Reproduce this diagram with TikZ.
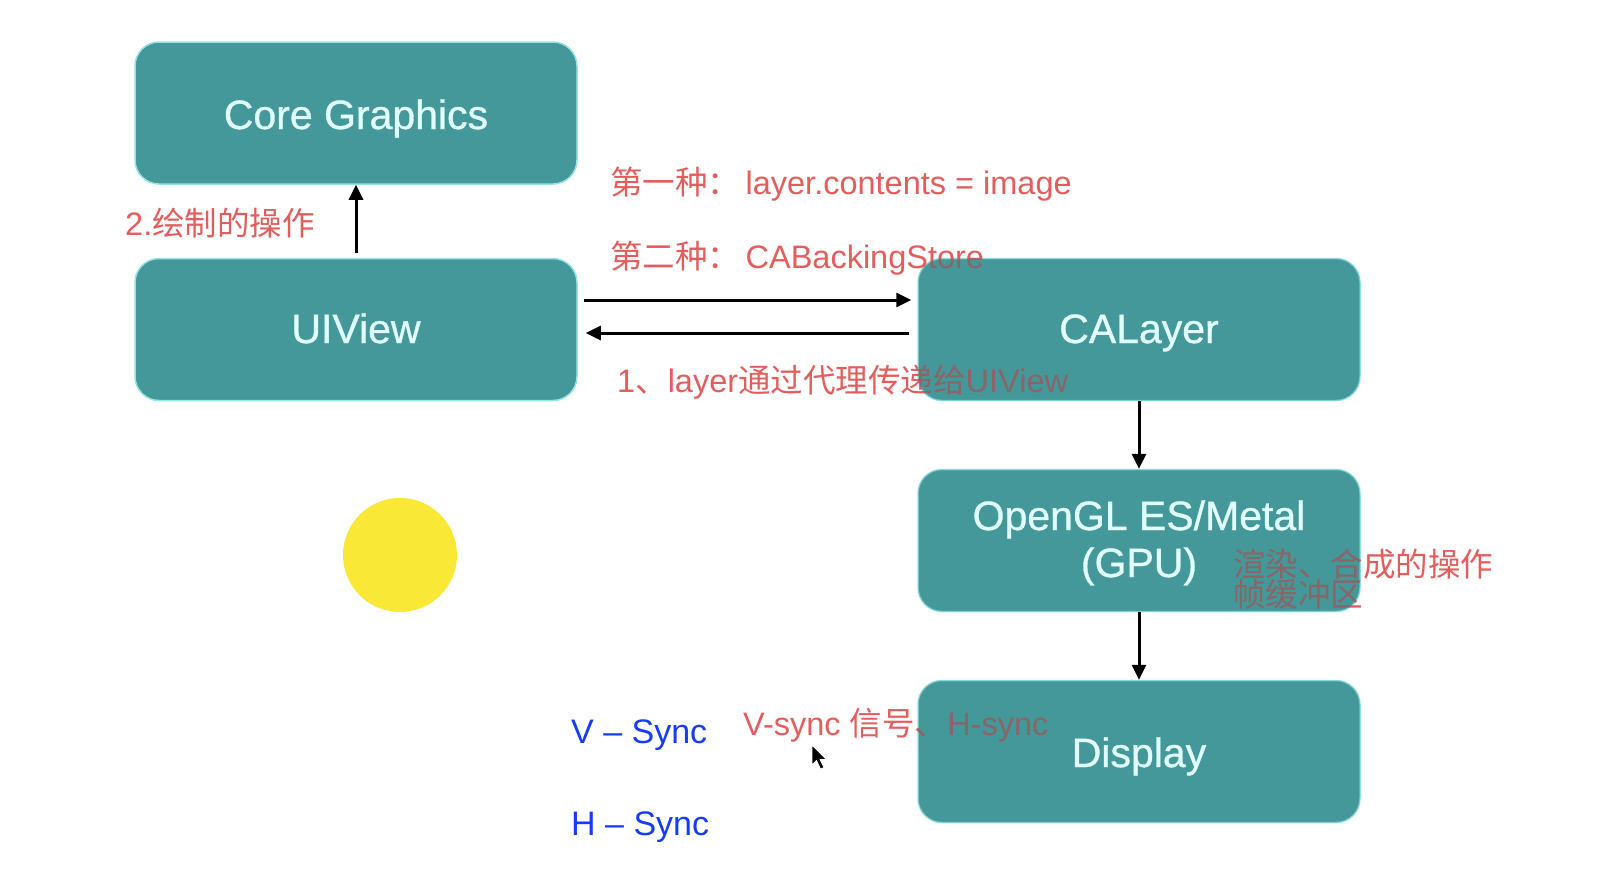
\documentclass[tikz,border=0pt]{standalone}
\usepackage{fontspec}
\setmainfont{Liberation Sans}
\newfontfamily\boxfont[FakeBold=0.8]{Liberation Sans}
\newfontfamily\cjk{Noto Sans CJK SC}
\usetikzlibrary{arrows.meta}
\definecolor{teal1}{RGB}{69,152,154}
\definecolor{tealedge}{RGB}{150,228,228}
\definecolor{boxtxt}{RGB}{225,255,255}
\definecolor{redtxt}{RGB}{220,40,40}
\definecolor{bluetxt}{RGB}{20,60,250}
\definecolor{sun}{RGB}{250,232,55}
\tikzset{
  box/.style={draw=tealedge, line width=1.5pt, fill=teal1, rounded corners=24pt,
    minimum width=442pt, minimum height=142pt, inner sep=0pt},
  veil/.style={fill=teal1, fill opacity=0.4, rounded corners=24pt},
  boxtext/.style={anchor=base, text=boxtxt, inner sep=0pt, font=\boxfont\fontsize{41}{48}\selectfont},
  note/.style={anchor=base west, text=redtxt, text opacity=0.75, inner sep=0pt, font=\fontsize{32.5}{36}\selectfont},
  sync/.style={anchor=base west, text=bluetxt, inner sep=0pt, font=\fontsize{34}{38}\selectfont},
  arr/.style={line width=3pt, -{Triangle[length=15pt,width=14pt]}}
}
\begin{document}
\begin{tikzpicture}[x=1pt,y=-1pt]
\useasboundingbox (0,0) rectangle (1610,892);
\fill[white] (0,0) rectangle (1610,892);

% boxes
\node[box] (cg) at (356,113) {};
\node[box] (uiv) at (356,329.5) {};
\node[box] (cal) at (1139,329.5) {};
\node[box] (gl) at (1139,540.5) {};
\node[box] (disp) at (1139,751.5) {};

% red notes
\node[note] (n2) at (125,235) {2.{\cjk 绘制的操作}};
\node[note] (na) at (610,194) {{\cjk 第一种：}\,layer.contents = image};
\node[note] (nb) at (610,268) {{\cjk 第二种：}\,CABackingStore};
\node[note] (n1) at (617,392) {1{\cjk 、}layer{\cjk 通过代理传递给}UIView};
\node[note] (nr1) at (1233,576) {\cjk 渲染、合成的操作};
\node[note] (nr2) at (1233,606) {\cjk 帧缓冲区};
\node[note] (nv) at (743,735) {V-sync {\cjk 信号、}H-sync};

% translucent veil over the notes where they cross the boxes
\fill[veil] ([xshift=0.75pt,yshift=-0.75pt]cal.north west) rectangle ([xshift=-0.75pt,yshift=0.75pt]cal.south east);
\fill[veil] ([xshift=0.75pt,yshift=-0.75pt]gl.north west) rectangle ([xshift=-0.75pt,yshift=0.75pt]gl.south east);
\fill[veil] ([xshift=0.75pt,yshift=-0.75pt]disp.north west) rectangle ([xshift=-0.75pt,yshift=0.75pt]disp.south east);

% box labels
\node[boxtext] (cgt) at (356,129) {Core Graphics};
\node[boxtext] (uivt) at (356,343) {UIView};
\node[boxtext] (calt) at (1139,343) {CALayer};
\node[boxtext] (glt1) at (1139,530) {OpenGL ES/Metal};
\node[boxtext] (glt2) at (1139,577) {(GPU)};
\node[boxtext] (dispt) at (1139,767) {Display};

% connectors
\draw[arr, shorten <=5pt] (uiv.north) -- (cg.south);
\draw[arr, shorten <=6pt, shorten >=6pt] ([yshift=29.5pt]uiv.east) -- ([yshift=29.5pt]cal.west);
\draw[arr, shorten <=8pt, shorten >=8pt] ([yshift=-3.5pt]cal.west) -- ([yshift=-3.5pt]uiv.east);
\draw[arr] (cal.south) -- (gl.north);
\draw[arr] (gl.south) -- (disp.north);

% blue labels
\node[sync] (vs) at (571,743) {V – Sync};
\node[sync] (hs) at (571,835) {H – Sync};

% yellow dot
\fill[sun] (400,555) circle (57);

% mouse cursor
\filldraw[fill=black, draw=white, line width=0.8pt, line join=round]
  (812,745) -- (812,765) -- (816.5,760.5) -- (820.5,769) -- (824,767.5) -- (820,759.5) -- (826.5,759.5) -- cycle;
\end{tikzpicture}
\end{document}
